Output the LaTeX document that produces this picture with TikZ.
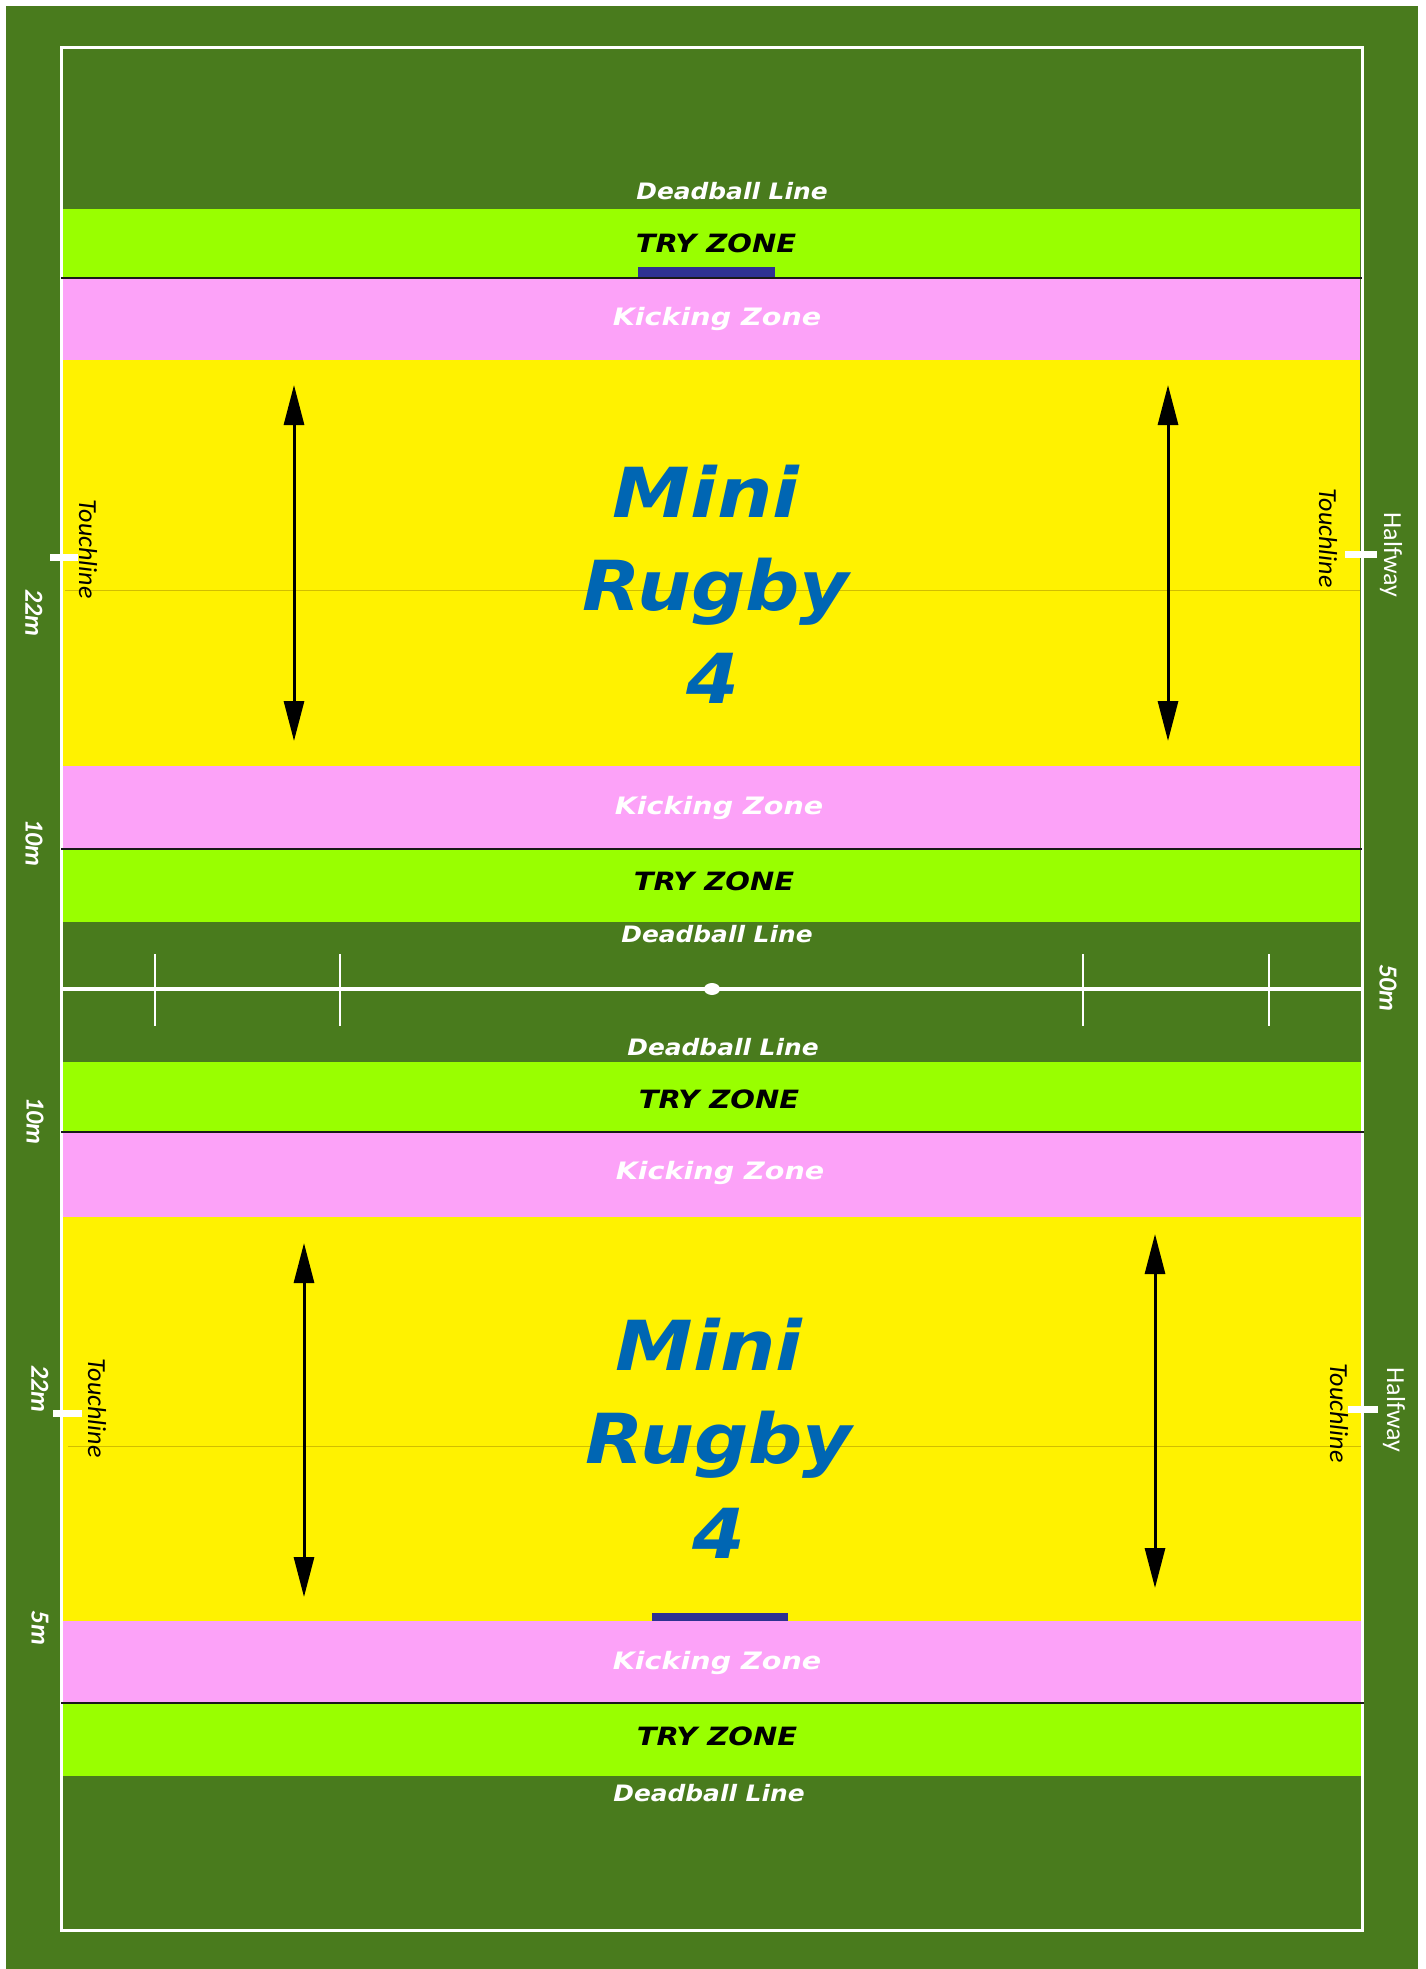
\documentclass[tikz,border=0pt]{standalone}
\usepackage{fontspec}
\usepackage{graphicx}
\usetikzlibrary{arrows.meta}
\newfontfamily\dvbo{DejaVu Sans Bold Oblique}
\newfontfamily\clfont{Carlito}
\newcommand{\widen}[2]{\scalebox{#1}[1]{#2}}
\definecolor{grass}{RGB}{73,123,29}
\definecolor{tryz}{RGB}{153,255,0}
\definecolor{kickz}{RGB}{252,162,248}
\definecolor{playz}{RGB}{255,242,0}
\definecolor{titleblue}{RGB}{0,102,179}
\definecolor{postblue}{RGB}{46,49,146}
\definecolor{midline}{RGB}{210,190,0}
\begin{document}
\begin{tikzpicture}[x=0.5pt,y=-0.5pt,
  deadball/.style={text=white,inner sep=0,anchor=base,font=\dvbo\fontsize{11.3pt}{13pt}\selectfont},
  tryzone/.style={text=black,inner sep=0,anchor=base,font=\dvbo\fontsize{12.6pt}{14pt}\selectfont},
  kickzone/.style={text=white,inner sep=0,anchor=base,font=\dvbo\fontsize{12pt}{14pt}\selectfont},
  titletext/.style={text=titleblue,inner sep=0,anchor=base,font=\dvbo\fontsize{34.5pt}{40pt}\selectfont},
  touchlbl/.style={text=black,inner sep=0,rotate=-90,font=\clfont\itshape\fontsize{13pt}{15pt}\selectfont},
  distlbl/.style={text=white,inner sep=0,rotate=-90,font=\clfont\bfseries\itshape\fontsize{13pt}{15pt}\selectfont},
  halflbl/.style={text=white,inner sep=0,rotate=-90,font=\clfont\fontsize{13pt}{15pt}\selectfont},
  boundary/.style={draw=black!90,line width=1.2pt},
  whiteline/.style={draw=white,line width=1.5pt},
  tickline/.style={draw=white,line width=1pt},
  touchtick/.style={draw=white,line width=3.5pt},
  centreline/.style={draw=midline,line width=0.5pt},
  dblarrow/.style={draw=black,line width=1.5pt,{Triangle[length=20pt,width=10pt]}-{Triangle[length=20pt,width=10pt]}}
]
\useasboundingbox (0,0) rectangle (1425,1969);
\fill[white] (0,0) rectangle (1425,1969);
\fill[grass] (6,6) rectangle (1418,1969);
% upper field
\fill[tryz]  (63,209) rectangle (1360,278);
\fill[kickz] (63,278) rectangle (1360,360);
\fill[playz] (63,360) rectangle (1360,766);
\fill[kickz] (63,766) rectangle (1360,849);
\fill[tryz]  (63,849) rectangle (1360,922);
% lower field
\fill[tryz]  (63,1062) rectangle (1364,1132);
\fill[kickz] (63,1132) rectangle (1364,1217);
\fill[playz] (63,1217) rectangle (1364,1621);
\fill[kickz] (63,1621) rectangle (1364,1703);
\fill[tryz]  (63,1703) rectangle (1364,1776);
% thin centre lines of the playing areas
\draw[centreline] (65,590) -- (1360,590);
\draw[centreline] (68,1446) -- (1362,1446);
% outer white border
\draw[whiteline] (61,48) rectangle (1362,1930);
% boundaries
\draw[boundary] (61,278) -- (1362,278);
\draw[boundary] (61,849) -- (1362,849);
\draw[boundary] (61,1132) -- (1364,1132);
\draw[boundary] (61,1703) -- (1364,1703);
% posts
\fill[postblue] (638,267) rectangle (775,277);
\fill[postblue] (652,1613) rectangle (788,1621);
% halfway line
\draw[white,line width=2pt] (61,989) -- (1362,989);
\draw[tickline] (155,954) -- (155,1026);
\draw[tickline] (340,954) -- (340,1026);
\draw[tickline] (1083,954) -- (1083,1026);
\draw[tickline] (1269,954) -- (1269,1026);
\fill[white] (712,989) ellipse [x radius=4pt, y radius=3pt];
% touchline ticks
\draw[touchtick] (50,557) -- (78,557);
\draw[touchtick] (1345,554) -- (1377,554);
\draw[touchtick] (53,1413) -- (82,1413);
\draw[touchtick] (1348,1409) -- (1378,1409);
% arrows
\coordinate (a1s) at (294,385); \coordinate (a1e) at (294,741);
\coordinate (a2s) at (1168,385); \coordinate (a2e) at (1168,741);
\coordinate (a3s) at (304,1243); \coordinate (a3e) at (304,1597);
\coordinate (a4s) at (1155,1234); \coordinate (a4e) at (1155,1588);
\draw[dblarrow] (a1s) -- (a1e);
\draw[dblarrow] (a2s) -- (a2e);
\draw[dblarrow] (a3s) -- (a3e);
\draw[dblarrow] (a4s) -- (a4e);
% zone texts
\node[deadball] (db1) at (732,200) {\widen{1.1}{Deadball Line}};
\node[tryzone]  (tz1) at (716,253) {\widen{1.15}{TRY ZONE}};
\node[kickzone] (kz1) at (717,325) {\widen{1.19}{Kicking Zone}};
\node[kickzone] (kz2) at (719,814) {\widen{1.19}{Kicking Zone}};
\node[tryzone]  (tz2) at (714,890) {\widen{1.15}{TRY ZONE}};
\node[deadball] (db2) at (717,942) {\widen{1.1}{Deadball Line}};
\node[deadball] (db3) at (723,1055) {\widen{1.1}{Deadball Line}};
\node[tryzone]  (tz3) at (719,1108) {\widen{1.15}{TRY ZONE}};
\node[kickzone] (kz3) at (720,1179) {\widen{1.19}{Kicking Zone}};
\node[kickzone] (kz4) at (717,1669) {\widen{1.19}{Kicking Zone}};
\node[tryzone]  (tz4) at (717,1745) {\widen{1.15}{TRY ZONE}};
\node[deadball] (db4) at (709,1801) {\widen{1.1}{Deadball Line}};
% titles
\node[titletext] (t1a) at (706,517) {\widen{1.13}{Mini}};
\node[titletext] (t1b) at (716,610) {\widen{1.1}{Rugby}};
\node[titletext] (t1c) at (713,703) {\widen{1.1}{4}};
\node[titletext] (t2a) at (709,1370) {\widen{1.13}{Mini}};
\node[titletext] (t2b) at (719,1463) {\widen{1.1}{Rugby}};
\node[titletext] (t2c) at (719,1558) {\widen{1.1}{4}};
% side labels
\node[touchlbl] (tl1) at (88,549) {Touchline};
\node[touchlbl] (tl2) at (1328,538) {Touchline};
\node[touchlbl] (tl3) at (97,1408) {Touchline};
\node[touchlbl] (tl4) at (1339,1413) {Touchline};
\node[distlbl] (d22a) at (34,613) {22m};
\node[distlbl] (d10a) at (34,843) {10m};
\node[distlbl] (d10b) at (35,1121) {10m};
\node[distlbl] (d22b) at (40,1389) {22m};
\node[distlbl] (d5) at (40,1628) {5m};
\node[distlbl] (d50) at (1388,988) {50m};
\node[halflbl] (hw1) at (1391,555) {Halfway};
\node[halflbl] (hw2) at (1394,1410) {Halfway};
\end{tikzpicture}
\end{document}
